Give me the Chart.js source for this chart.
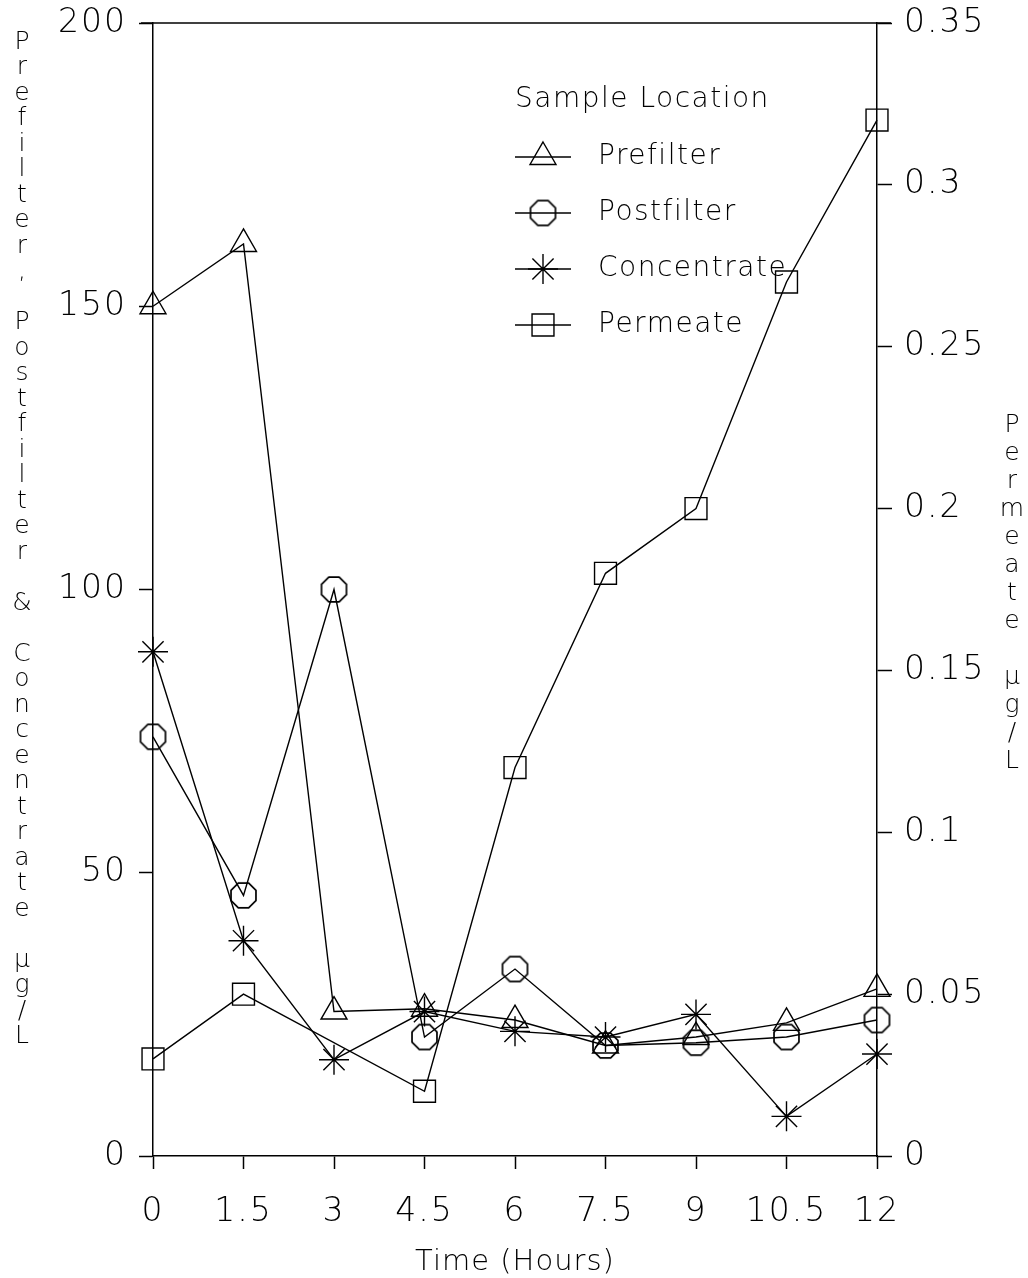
<!DOCTYPE html>
<html lang="en">
<head>
    <meta charset="UTF-8">
    <title>Sample Location vs Time</title>
    <style>
        body {
            margin: 0;
            padding: 0;
            background-color: #fff;
        }
        #wrap {
            width: 1028px;
            height: 1278px;
        }
    </style>
</head>
<body>

<div id="wrap">
    <canvas id="sampleChart" width="1028" height="1278"></canvas>
</div>

<script src="https://cdn.jsdelivr.net/npm/chart.js"></script>
<script>
    // sampling times (hours)
    const hours = [0, 1.5, 3, 4.5, 6, 7.5, 9, 10.5, 12];

    // left axis, ug/L
    const prefilter   = [150, 161, 25.5, 26, 24, 19.5, 21, 23.5, 29.5];
    const postfilter  = [74, 46, 100, 21, 33, 19.5, 20, 21, 24];
    const concentrate = [89, 38, 17, 25.5, 22, 21, 25, 7, 18];

    // right axis, ug/L (no sample at 3 h)
    const permeate = [0.03, 0.05, null, 0.02, 0.12, 0.18, 0.2, 0.27, 0.32];

    const seriesNames = ['Prefilter', 'Postfilter', 'Concentrate', 'Permeate'];

    const INK = '#000';
    const FONT = '"DejaVu Sans", "Liberation Sans", sans-serif';

    // octagon marker, hollow
    function makeOctagon(r) {
        const c = document.createElement('canvas');
        const s = Math.ceil(2 * r + 4);
        c.width = s;
        c.height = s;
        const g = c.getContext('2d');
        g.strokeStyle = INK;
        g.lineWidth = 1.7;
        g.beginPath();
        for (let i = 0; i < 8; i++) {
            const a = Math.PI / 8 + i * Math.PI / 4;
            const px = s / 2 + r * Math.cos(a);
            const py = s / 2 + r * Math.sin(a);
            if (i === 0) g.moveTo(px, py); else g.lineTo(px, py);
        }
        g.closePath();
        g.stroke();
        return c;
    }
    const octagon = makeOctagon(13.5);

    function toPoints(values) {
        return hours.map((h, i) => ({ x: h, y: values[i] }));
    }

    function lineSet(label, values, style, radius, axis) {
        return {
            label: label,
            data: toPoints(values),
            yAxisID: axis,
            borderColor: INK,
            borderWidth: 1.4,
            pointStyle: style,
            pointRadius: radius,
            pointBorderColor: INK,
            pointBorderWidth: 1.4,
            pointBackgroundColor: 'rgba(0,0,0,0)',
            spanGaps: true,
            clip: false,
            tension: 0
        };
    }

    // keep the plot box fixed: no extra room for the end tick labels
    function fixVertical(width) {
        return function (scale) {
            scale.width = width;
            scale.paddingTop = 0;
            scale.paddingBottom = 0;
        };
    }

    // stacked vertical titles, x title, top frame and the legend box
    const decorations = {
        id: 'decorations',
        beforeDraw(chart) {
            chart.ctx.letterSpacing = '2px';
        },
        afterDraw(chart) {
            const ctx = chart.ctx;
            const area = chart.chartArea;
            ctx.save();
            ctx.fillStyle = INK;
            ctx.strokeStyle = INK;

            // top frame line
            ctx.lineWidth = 1.5;
            ctx.beginPath();
            ctx.moveTo(area.left - 12, area.top);
            ctx.lineTo(area.right + 14, area.top);
            ctx.stroke();

            // left title, one character per line
            ctx.letterSpacing = '0px';
            ctx.font = '200 25px ' + FONT;
            ctx.textAlign = 'center';
            ctx.textBaseline = 'middle';
            const leftTitle = 'Prefilter, Postfilter & Concentrate \u00b5g/L';
            [...leftTitle].forEach((ch, i) => ctx.fillText(ch, 22, 42 + i * 25.5));

            const rightTitle = 'Permeate \u00b5g/L';
            [...rightTitle].forEach((ch, i) => ctx.fillText(ch, 1012, 425 + i * 28));

            // x title
            ctx.letterSpacing = '1px';
            ctx.font = '200 29px ' + FONT;
            ctx.fillText('Time (Hours)', (area.left + area.right) / 2, 1262);

            // legend
            ctx.textAlign = 'left';
            ctx.letterSpacing = '1.5px';
            ctx.font = '200 28px ' + FONT;
            ctx.fillText('Sample Location', 515, 100);

            const rowY = [157, 213, 269, 325];
            chart.data.datasets.forEach((ds, i) => {
                const y = rowY[i];
                ctx.lineWidth = 1.4;
                ctx.beginPath();
                ctx.moveTo(515, y);
                ctx.lineTo(571, y);
                ctx.stroke();
                ctx.fillStyle = 'rgba(0,0,0,0)';
                Chart.helpers.drawPoint(ctx, {
                    pointStyle: ds.pointStyle,
                    radius: ds.pointRadius,
                    rotation: 0,
                    borderWidth: 1.4
                }, 543, y);
                ctx.fillStyle = INK;
                ctx.fillText(seriesNames[i], 598, y);
            });
            ctx.restore();
        }
    };

    const tickFont = { family: FONT, size: 33, weight: 200 };
    const fmt = v => String(+Number(v).toFixed(2));

    const ctx = document.getElementById('sampleChart').getContext('2d');
    const chart = new Chart(ctx, {
        type: 'line',
        data: {
            datasets: [
                lineSet('Prefilter', prefilter, 'triangle', 15, 'y'),
                lineSet('Postfilter', postfilter, octagon, 14, 'y'),
                lineSet('Concentrate', concentrate, 'star', 15, 'y'),
                lineSet('Permeate', permeate, 'rect', 15.5, 'y1')
            ]
        },
        options: {
            responsive: false,
            animation: false,
            events: [],
            layout: {
                padding: { top: 23, left: 0, right: 0, bottom: 0 }
            },
            plugins: {
                legend: { display: false },
                tooltip: { enabled: false }
            },
            scales: {
                x: {
                    type: 'linear',
                    min: 0,
                    max: 12,
                    ticks: {
                        stepSize: 1.5,
                        color: INK,
                        font: tickFont,
                        padding: 24,
                        maxRotation: 0,
                        callback: fmt
                    },
                    grid: {
                        drawOnChartArea: false,
                        tickLength: 13,
                        tickColor: INK,
                        tickWidth: 1.5
                    },
                    border: { color: INK, width: 1.5 },
                    afterFit(scale) {
                        scale.height = 122;
                        scale.paddingLeft = 0;
                        scale.paddingRight = 0;
                    }
                },
                y: {
                    position: 'left',
                    min: 0,
                    max: 200,
                    ticks: {
                        stepSize: 50,
                        color: INK,
                        font: tickFont,
                        padding: 12
                    },
                    grid: {
                        drawOnChartArea: false,
                        tickLength: 14,
                        tickColor: INK,
                        tickWidth: 1.5
                    },
                    border: { color: INK, width: 1.5 },
                    afterFit: fixVertical(153)
                },
                y1: {
                    position: 'right',
                    min: 0,
                    max: 0.35,
                    ticks: {
                        stepSize: 0.05,
                        color: INK,
                        font: tickFont,
                        padding: 12,
                        callback: fmt
                    },
                    grid: {
                        drawOnChartArea: false,
                        tickLength: 15,
                        tickColor: INK,
                        tickWidth: 1.5
                    },
                    border: { color: INK, width: 1.5 },
                    afterFit: fixVertical(151)
                }
            }
        },
        plugins: [decorations]
    });
</script>

</body>
</html>
